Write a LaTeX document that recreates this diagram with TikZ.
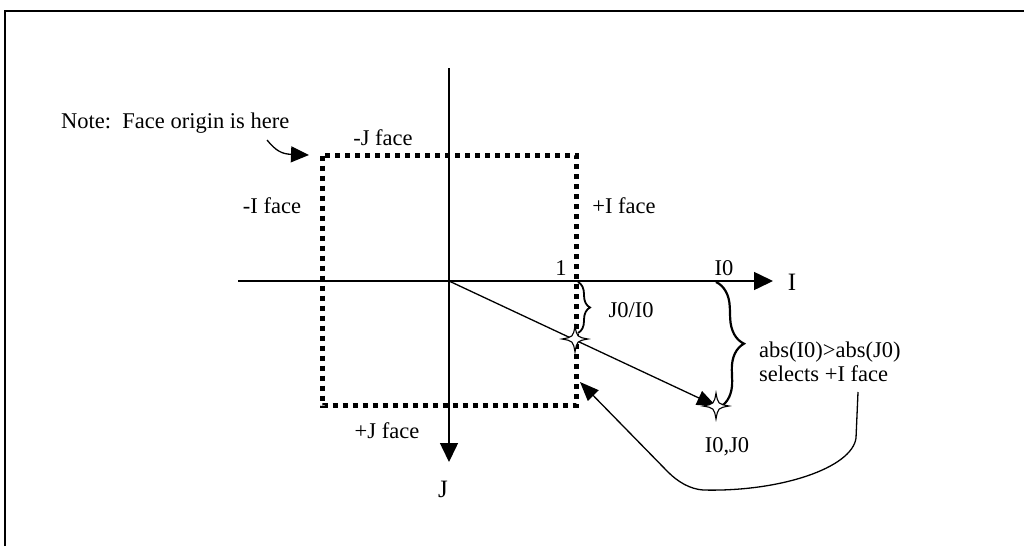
\documentclass[tikz,border=0pt]{standalone}
\usepackage{fontspec}
\setmainfont{Liberation Serif}
\usetikzlibrary{arrows.meta,decorations.pathreplacing}
\tikzset{
  lbl/.style={font=\fontsize{22.5}{26}\selectfont, inner sep=0pt, anchor=base},
  axlbl/.style={font=\fontsize{25}{29}\selectfont, inner sep=0pt, anchor=base},
  axisline/.style={line width=1.5pt, -{Triangle[length=19pt,width=18pt]}},
  thinarrow/.style={line width=1.3pt, -{Triangle[length=19pt,width=15pt]}},
  facebox/.style={line width=5pt, dash pattern=on 5pt off 5pt},
  bracedeco/.style={decorate, decoration={brace, amplitude=#1}, line width=2.2pt},
  fourstar/.pic={\filldraw[fill=white, line width=1.1pt]
     (0,-13) .. controls (2,-2) .. (13,0) .. controls (2,2) .. (0,13)
     .. controls (-2,2) .. (-13,0) .. controls (-2,-2) .. cycle;}
}
\begin{document}
\begin{tikzpicture}[x=1pt,y=-1pt]
\useasboundingbox (0,0) rectangle (1024,546);
% frame (cropped)
\draw[line width=2pt] (5,546) -- (5,10.5) -- (1024,10.5);

% coordinates
\coordinate (O) at (449,281);
\coordinate (jtop) at (449,68);
\coordinate (jend) at (449,462);
\coordinate (ileft) at (238,281);
\coordinate (iend) at (773,281);
\coordinate (s1) at (575,339);
\coordinate (s2) at (716,406);

% axes
\draw[axisline] (jtop) -- (jend);
\draw[axisline] (ileft) -- (iend);

% face box
\draw[facebox] (322.5,155.5) rectangle (576,405.5);

% labels
\node[lbl, anchor=base west] (note) at (61,128) {Note:\ \ Face origin is here};
\node[lbl] (mj) at (383,145) {-J face};
\node[lbl] (mi) at (272,213) {-I face};
\node[lbl] (pi) at (624,213) {+I face};
\node[lbl] (pj) at (387,438) {+J face};
\node[axlbl] (J) at (443,497) {J};
\node[axlbl] (I) at (792,290) {I};
\node[lbl] (one) at (561,275) {1};
\node[lbl] (i0) at (724,275) {I0};
\node[lbl] (j0i0) at (631,317) {J0/I0};
\node[lbl, anchor=base west] (abs) at (759,357) {abs(I0)>abs(J0)};
\node[lbl, anchor=base west] (sel) at (759,381) {selects +I face};
\node[lbl] (i0j0) at (727,452) {I0,J0};

% note arrow
\coordinate (nstart) at (267,140);
\coordinate (corner) at (309,155);
\draw[line width=1.3pt, -{Triangle[length=18pt,width=16pt]}]
  (nstart) .. controls (276,151) and (282,154) .. (corner);

% diagonal
\draw[thinarrow] (O) -- (s2);

% braces
\draw[bracedeco=12pt, line width=1.8pt] (578,282) -- (578,333);
\draw[bracedeco=26pt] (716,282) -- (720,407);

% curved arrow
\coordinate (cstart) at (858,392);
\coordinate (ctip) at (580,382);
\draw[thinarrow] (cstart) -- (856,438) .. controls (852,468) and (780,492) .. (703,490)
  .. controls (690,489) and (678,482) .. (668,472) -- (ctip);

% stars
\pic at (s1) {fourstar};
\pic at (s2) {fourstar};
\end{tikzpicture}
\end{document}
